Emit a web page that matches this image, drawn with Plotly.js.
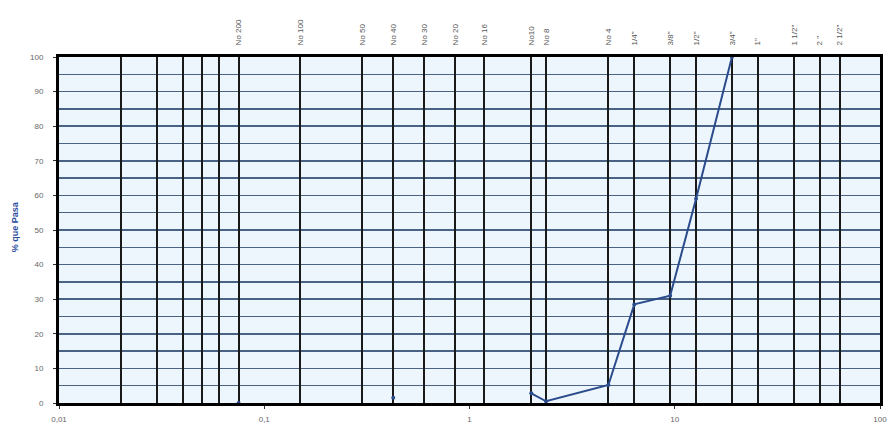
<!DOCTYPE html>
<html>
<head>
<meta charset="utf-8">
<script src="https://cdn.plot.ly/plotly-3.0.1.min.js"></script>
<style>html,body{margin:0;padding:0;background:#fff;}#chart{width:889px;height:439px;}</style>
</head>
<body>
<div id="chart"></div>
<script>
// Sieve openings (mm) and labels for the top axis
const sieveSizes = [0.02, 0.03, 0.04, 0.05, 0.06, 0.075, 0.15, 0.3, 0.425, 0.6, 0.85, 1.18, 2.0, 2.36, 4.75, 6.35, 9.5, 12.7, 19.0, 25.4, 38.1, 50.8, 63.5];
const sieveLabels = ["", "", "", "", "", "No 200", "No 100", "No 50", "No 40", "No 30", "No 20", "No 16", "No10", "No 8", "No 4", "1/4\"", "3/8\"", "1/2\"", "3/4\"", "1\"", "1 1/2\"", "2 \"", "2 1/2\""];

// Bottom axis ticks
const xTickVals = [0.01, 0.1, 1, 10, 100];
const xTickText = ["0,01", "0,1", "1", "10", "100"];
const yTickVals = [0, 10, 20, 30, 40, 50, 60, 70, 80, 90, 100];

// Grading curve (% passing); null = gap
const grainSize = [0.075, 0.3, 0.425, 1.0, 2.0, 2.36, 4.75, 6.35, 9.5, 12.7, 19.0];
const percentPassing = [0, null, 1.5, null, 2.8, 0.5, 5.2, 28.5, 31, 59, 100];

const trace = {
  x: grainSize, y: percentPassing, type: 'scatter', mode: 'lines+markers',
  connectgaps: false,
  line: {color: '#2b4c8c', width: 2},
  marker: {color: '#2b4c8c', size: 4},
  hoverinfo: 'skip', showlegend: false
};
const dummyTop = {x: [0.01, 100], y: [null, null], xaxis: 'x2', yaxis: 'y', type: 'scatter', mode: 'lines', showlegend: false, hoverinfo: 'skip'};

const layout = {
  width: 889, height: 439,
  margin: {l: 59, r: 9, t: 57, b: 36},
  paper_bgcolor: '#ffffff',
  plot_bgcolor: '#eef6fd',
  font: {family: 'Liberation Sans, Arial, sans-serif', color: '#555'},
  xaxis: {
    type: 'log', range: [-2, 2],
    tickmode: 'array', tickvals: xTickVals, ticktext: xTickText,
    tickfont: {size: 8, color: '#666'},
    ticks: 'outside', ticklen: 3, tickcolor: '#333',
    ticklabelstandoff: 3,
    showgrid: false, zeroline: false,
    showline: true, linecolor: '#000', linewidth: 3, mirror: true
  },
  xaxis2: {
    type: 'log', range: [-2, 2], overlaying: 'x', side: 'top', anchor: 'y',
    tickmode: 'array', tickvals: sieveSizes, ticktext: sieveLabels,
    tickangle: -90, tickfont: {size: 8, color: '#555'},
    ticks: 'outside', ticklen: 9, tickcolor: 'rgba(0,0,0,0)',
    showgrid: true, gridcolor: '#1a1a1a', gridwidth: 2,
    zeroline: false, showline: false
  },
  yaxis: {
    range: [0, 100],
    tickmode: 'array', tickvals: yTickVals,
    tickfont: {size: 8, color: '#666'},
    ticks: 'outside', ticklen: 3, tickcolor: '#333',
    ticklabelstandoff: 8,
    showgrid: true, gridcolor: '#4a6384', gridwidth: 1.5,
    minor: {dtick: 5, showgrid: true, gridcolor: '#4a6384', gridwidth: 1.5, ticks: ''},
    zeroline: false,
    showline: true, linecolor: '#000', linewidth: 3, mirror: true
  },
  annotations: [{
    text: '<b>% que Pasa</b>', xref: 'paper', yref: 'paper', x: -0.054, y: 0.51,
    xanchor: 'center', yanchor: 'middle', textangle: -90, showarrow: false,
    font: {size: 9, color: '#2f4fa0'}
  }]
};

Plotly.newPlot('chart', [trace, dummyTop], layout, {displayModeBar: false, staticPlot: true});
</script>
</body>
</html>
